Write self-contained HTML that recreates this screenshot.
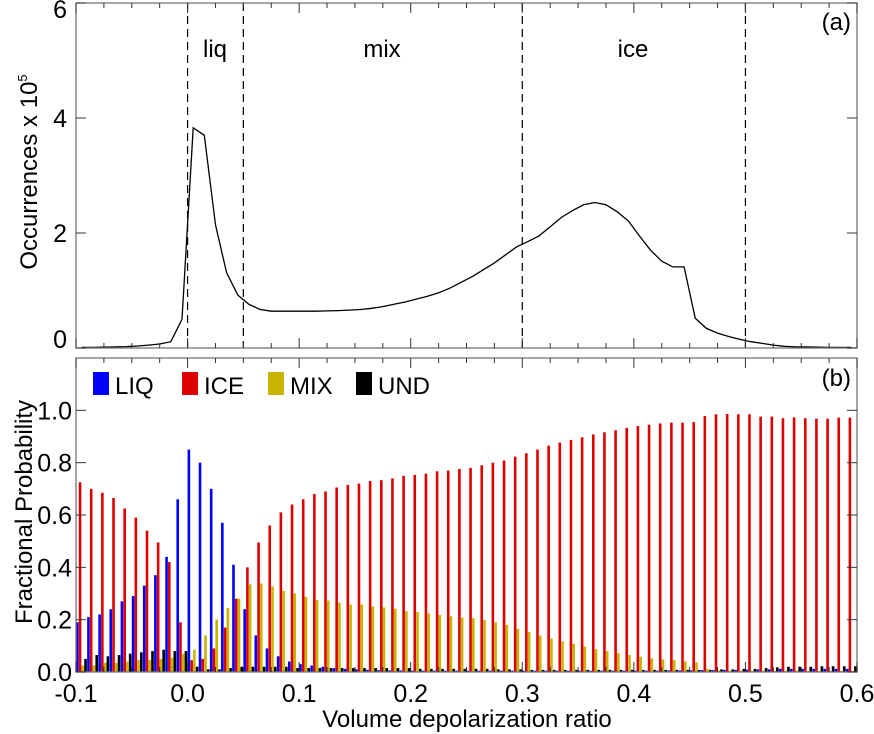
<!DOCTYPE html>
<html><head><meta charset="utf-8"><style>
body{margin:0;background:#fff;}
svg{display:block;font-family:"Liberation Sans",Arial,sans-serif;}
</style></head><body>
<svg id="chart" width="874" height="734" viewBox="0 0 874 734"></svg>
<script>
// ---- data ----
const lineX = [-0.095,-0.085,-0.075,-0.065,-0.055,-0.045,-0.035,-0.025,-0.015,-0.005,0.005,0.015,0.025,0.035,0.045,0.055,0.065,0.075,0.085,0.095,0.105,0.115,0.125,0.135,0.145,0.155,0.165,0.175,0.185,0.195,0.205,0.215,0.225,0.235,0.245,0.255,0.265,0.275,0.285,0.295,0.305,0.315,0.325,0.335,0.345,0.355,0.365,0.375,0.385,0.395,0.405,0.415,0.425,0.435,0.445,0.455,0.465,0.475,0.485,0.495,0.505,0.515,0.525,0.535,0.545,0.555,0.565,0.575,0.585,0.595];
const occurrences = [0.01,0.01,0.015,0.02,0.025,0.035,0.05,0.07,0.11,0.5,3.83,3.7,2.14,1.31,0.92,0.76,0.67,0.64,0.64,0.64,0.64,0.64,0.645,0.65,0.66,0.67,0.69,0.72,0.76,0.80,0.85,0.9,0.96,1.04,1.14,1.24,1.36,1.48,1.62,1.76,1.85,1.95,2.11,2.27,2.39,2.49,2.53,2.49,2.37,2.21,1.95,1.70,1.51,1.41,1.41,0.52,0.34,0.26,0.20,0.15,0.11,0.08,0.05,0.03,0.02,0.02,0.015,0.01,0.01,0.01];
const binStart = [-0.1,-0.09,-0.08,-0.07,-0.06,-0.05,-0.04,-0.03,-0.02,-0.01,0.0,0.01,0.02,0.03,0.04,0.05,0.06,0.07,0.08,0.09,0.10,0.11,0.12,0.13,0.14,0.15,0.16,0.17,0.18,0.19,0.20,0.21,0.22,0.23,0.24,0.25,0.26,0.27,0.28,0.29,0.30,0.31,0.32,0.33,0.34,0.35,0.36,0.37,0.38,0.39,0.40,0.41,0.42,0.43,0.44,0.45,0.46,0.47,0.48,0.49,0.50,0.51,0.52,0.53,0.54,0.55,0.56,0.57,0.58,0.59];
const liq = [0.19,0.21,0.22,0.24,0.27,0.29,0.33,0.37,0.44,0.66,0.85,0.80,0.70,0.57,0.41,0.24,0.14,0.09,0.06,0.04,0.03,0.025,0.02,0.015,0.012,0.01,0.008,0.007,0.006,0.006,0.005,0.005,0.005,0.005,0.005,0.005,0.005,0.005,0.005,0.005,0.005,0.005,0.005,0.005,0.005,0.005,0.005,0.005,0.005,0.005,0.005,0.005,0.005,0.006,0.006,0.006,0.007,0.007,0.008,0.008,0.009,0.01,0.01,0.012,0.012,0.012,0.012,0.012,0.012,0.012];
const ice = [0.725,0.70,0.685,0.665,0.625,0.59,0.54,0.495,0.42,0.19,0.045,0.05,0.09,0.17,0.28,0.40,0.495,0.56,0.61,0.64,0.66,0.68,0.69,0.705,0.715,0.72,0.73,0.733,0.74,0.75,0.753,0.758,0.767,0.77,0.776,0.78,0.79,0.80,0.808,0.823,0.836,0.85,0.865,0.877,0.887,0.897,0.908,0.916,0.924,0.933,0.94,0.945,0.95,0.953,0.953,0.955,0.978,0.985,0.986,0.985,0.985,0.976,0.976,0.97,0.973,0.97,0.968,0.968,0.972,0.972];
const mix = [0.025,0.025,0.035,0.035,0.04,0.045,0.045,0.05,0.055,0.07,0.085,0.14,0.2,0.245,0.28,0.335,0.338,0.327,0.31,0.30,0.287,0.275,0.273,0.265,0.258,0.258,0.25,0.247,0.242,0.232,0.229,0.224,0.218,0.213,0.208,0.206,0.199,0.19,0.18,0.165,0.153,0.14,0.128,0.117,0.108,0.097,0.087,0.08,0.072,0.065,0.058,0.052,0.048,0.045,0.04,0.037,0.012,0.006,0.005,0.005,0.005,0.005,0.005,0.005,0.005,0.004,0.004,0.004,0.004,0.004];
const und = [0.05,0.065,0.06,0.065,0.07,0.075,0.08,0.085,0.08,0.08,0.02,0.01,0.01,0.015,0.02,0.02,0.02,0.02,0.02,0.015,0.015,0.015,0.015,0.015,0.015,0.015,0.015,0.015,0.015,0.015,0.012,0.012,0.012,0.012,0.012,0.012,0.012,0.01,0.01,0.01,0.008,0.008,0.008,0.008,0.008,0.008,0.008,0.008,0.008,0.008,0.008,0.008,0.008,0.008,0.008,0.008,0.008,0.01,0.01,0.012,0.012,0.015,0.018,0.02,0.02,0.02,0.022,0.022,0.022,0.022];
const xTicks = [-0.1,0.0,0.1,0.2,0.3,0.4,0.5,0.6];
const xTickLabels = ["-0.1","0.0","0.1","0.2","0.3","0.4","0.5","0.6"];
const topYTicks = [0,2,4,6];
const botYTicks = [0,0.2,0.4,0.6,0.8,1.0];
const botYTickLabels = ["0.0","0.2","0.4","0.6","0.8","1.0"];
const dividers = [0.0,0.05,0.3,0.5];

// ---- layout ----
const L=76,R=857;
const X=v=>L+(v+0.1)*(R-L)/0.7;
const T0=3,T1=348; const YT=v=>T1-(v/6)*(T1-T0);
const B0=358,B1=672; const YB=v=>B1-(v/1.2)*(B1-B0);
const NS='http://www.w3.org/2000/svg';
const svg=document.getElementById('chart');
function mk(tag,attrs,parent){const e=document.createElementNS(NS,tag);for(const k in attrs)e.setAttribute(k,attrs[k]);(parent||svg).appendChild(e);return e;}
function txt(s,attrs,parent){const e=mk('text',attrs,parent);e.textContent=s;return e;}

// ---- top panel ----
const gTop=mk('g',{});


dividers.forEach(d=>{
  const l=mk('line',{x1:X(d),x2:X(d),y1:T0,y2:T1,stroke:'#000','stroke-width':1.2,'stroke-dasharray':'8,5'},gTop);
  
  
});
const pts=lineX.map((x,i)=>X(x).toFixed(1)+','+YT(occurrences[i]).toFixed(1)).join(' ');
const pl=mk('polyline',{points:pts,fill:'none',stroke:'#000','stroke-width':1.3},gTop);



// ---- bottom panel bars ----
const gBot=mk('g',{});


const series=[[liq,'#0000ff','bar-liq'],[ice,'#dd0000','bar-ice'],[mix,'#c8b400','bar-mix'],[und,'#000000','bar-und']];
binStart.forEach((b,i)=>{
  series.forEach((s,j)=>{
    const v=s[0][i]; const y=YB(v);
    const r=mk('rect',{x:X(b)+j*2.75,y:y,width:2.6,height:B1-y,fill:s[1]},gBot);
    
    
  });
});

// ---- frames & ticks ----
function frame(y0,y1,name){
  const f=mk('rect',{x:L,y:y0,width:R-L,height:y1-y0,fill:'none',stroke:'#777','stroke-width':1.3});
  
  
  for(let v=-0.1;v<=0.6001;v+=0.025){
    const major=Math.abs(Math.round(v*10)-v*10)<1e-6;
    const len=major?10:5;
    mk('line',{x1:X(v),x2:X(v),y1:y0,y2:y0+len,stroke:'#333','stroke-width':1});
    mk('line',{x1:X(v),x2:X(v),y1:y1,y2:y1-len,stroke:'#333','stroke-width':1});
  }
}
frame(T0,T1,'top-frame');
frame(B0,B1,'bottom-frame');
topYTicks.forEach(t=>{
  mk('line',{x1:L,x2:L+10,y1:YT(t),y2:YT(t),stroke:'#333'});
  mk('line',{x1:R,x2:R-10,y1:YT(t),y2:YT(t),stroke:'#333'});
  let yy=YT(t)+9; if(t===0) yy=T1; if(t===6) yy=T0+15;
  const e=txt(String(t),{x:L-9,y:yy,'font-size':25,'text-anchor':'end'});
  
  
});
botYTicks.forEach((t,i)=>{
  mk('line',{x1:L,x2:L+10,y1:YB(t),y2:YB(t),stroke:'#333'});
  mk('line',{x1:R,x2:R-10,y1:YB(t),y2:YB(t),stroke:'#333'});
  const e=txt(botYTickLabels[i],{x:L-4,y:YB(t)+9,'font-size':25,'text-anchor':'end'});
  
  
});
xTicks.forEach((t,i)=>{
  const e=txt(xTickLabels[i],{x:X(t),y:702,'font-size':25,'text-anchor':'middle'});
  
  
});
</script>
<div style="position:absolute;left:0;top:0;width:874px;height:734px;pointer-events:none;">
<svg width="874" height="734" style="position:absolute;left:0;top:0;font-family:'Liberation Sans',Arial,sans-serif">
  <text x="467" y="727" font-size="24" text-anchor="middle">Volume depolarization ratio</text>
  <text transform="translate(37,172) rotate(-90)" font-size="24" text-anchor="middle">Occurrences x 10<tspan font-size="13" dy="-10">5</tspan></text>
  <text transform="translate(32,512) rotate(-90)" font-size="24" text-anchor="middle">Fractional Probability</text>
  <text x="215" y="57" font-size="24" text-anchor="middle">liq</text>
  <text x="382" y="57" font-size="24" text-anchor="middle">mix</text>
  <text x="633" y="57" font-size="24" text-anchor="middle">ice</text>
  <text x="851" y="30" font-size="24" text-anchor="end">(a)</text>
  <text x="851" y="386" font-size="24" text-anchor="end">(b)</text>
  <g font-size="24">
    <rect x="93" y="372" width="16" height="23" fill="#0000ff"/>
    <text x="115" y="394">LIQ</text>
    <rect x="182" y="372" width="16" height="23" fill="#dd0000"/>
    <text x="204" y="394">ICE</text>
    <rect x="268" y="372" width="16" height="23" fill="#c8b400"/>
    <text x="290" y="394">MIX</text>
    <rect x="356" y="372" width="16" height="23" fill="#000"/>
    <text x="378" y="394">UND</text>
  </g>
</svg>
</div>
</body></html>
